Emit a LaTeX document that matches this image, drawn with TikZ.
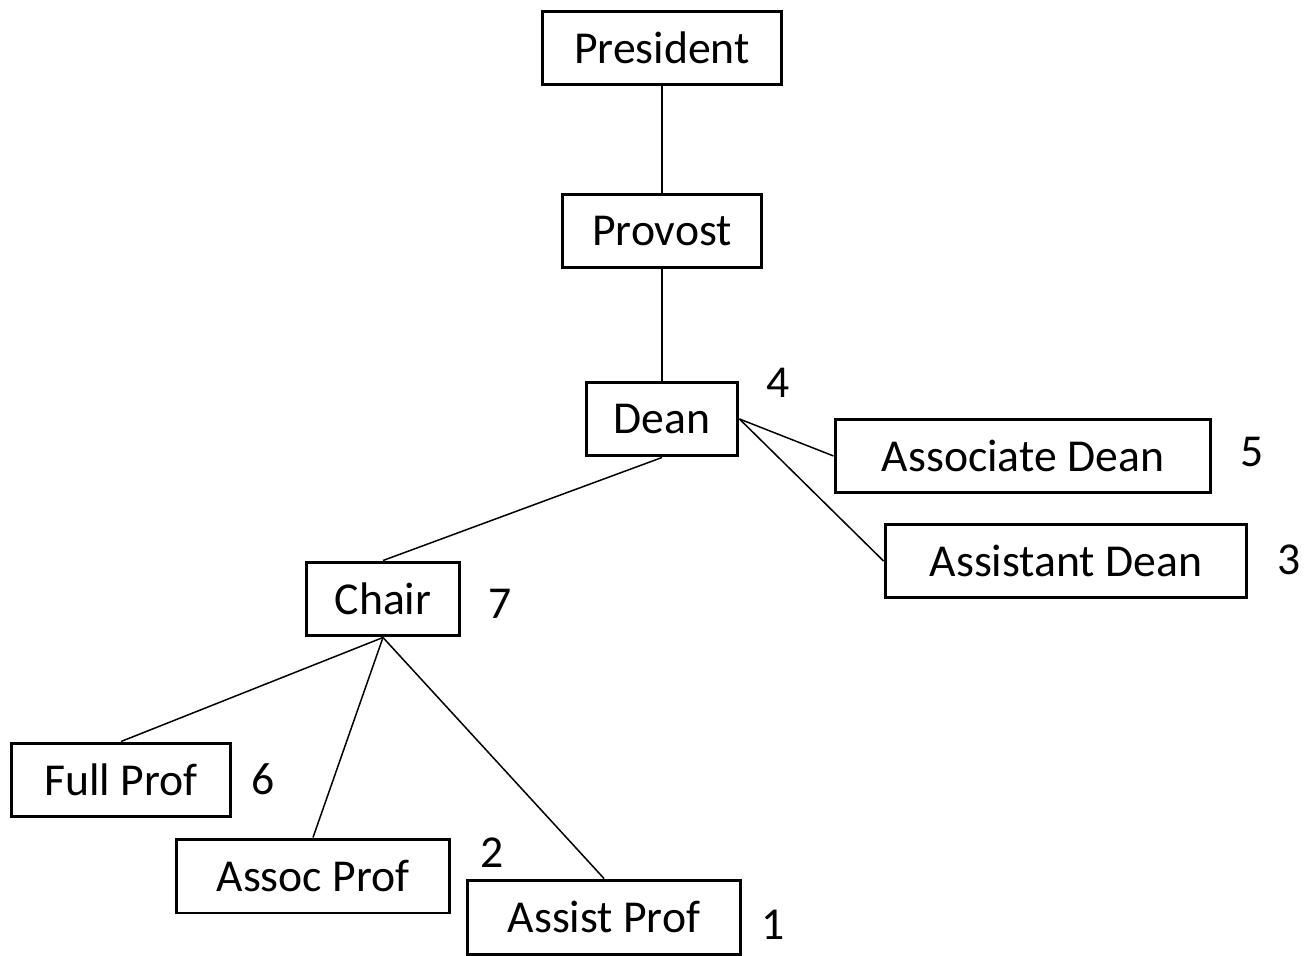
\documentclass[tikz,border=0pt]{standalone}
\usepackage{fontspec}
\setmainfont{Carlito}
\usepackage{tikz}
\usetikzlibrary{positioning}

\begin{document}
\begin{tikzpicture}[x=0.02cm, y=-0.02cm]
\tikzstyle{post}=[rectangle, draw, line width=0.06cm, inner sep=0pt, minimum height=1.48cm, font=\fontsize{26}{30}\selectfont]
\tikzstyle{rank}=[inner sep=0pt, font=\fontsize{26}{30}\selectfont]
\tikzstyle{link}=[line width=0.03cm]
\useasboundingbox (0,0) rectangle (1305,956);
\node[post, minimum width=4.78cm] (pres) at (662,48) {President};
\node[post, minimum width=3.98cm] (prov) at (662,231) {Provost};
\node[post, minimum width=3.04cm] (dean) at (662,419) {Dean};
\node[post, minimum width=7.52cm] (adean) at (1023,456) {Associate Dean};
\node[post, minimum width=7.24cm] (asdean) at (1066,561) {Assistant Dean};
\node[post, minimum width=3.06cm] (chair) at (383,599) {Chair};
\node[post, minimum width=4.38cm] (full) at (121,780) {Full Prof};
\node[post, minimum width=5.48cm] (assoc) at (313,876) {Assoc Prof};
\node[post, minimum width=5.46cm] (assist) at (604,917) {Assist Prof};
\node[rank] (n4) at (778,383) {4};
\node[rank] (n5) at (1252,452) {5};
\node[rank] (n3) at (1289,560) {3};
\node[rank] (n7) at (500,604) {7};
\node[rank] (n6) at (263,779) {6};
\node[rank] (n2) at (492,853) {2};
\node[rank] (n1) at (773,925) {1};
\draw[link] (pres)--(prov)--(dean);
\draw[link] (dean.east)--(adean.west);
\draw[link] (dean.east)--(asdean.west);
\draw[link] (dean.south)--(chair.north);
\draw[link] (chair.south)--(full.north);
\draw[link] (chair.south)--(assoc.north);
\draw[link] (chair.south)--(assist.north);
\end{tikzpicture}
\end{document}
